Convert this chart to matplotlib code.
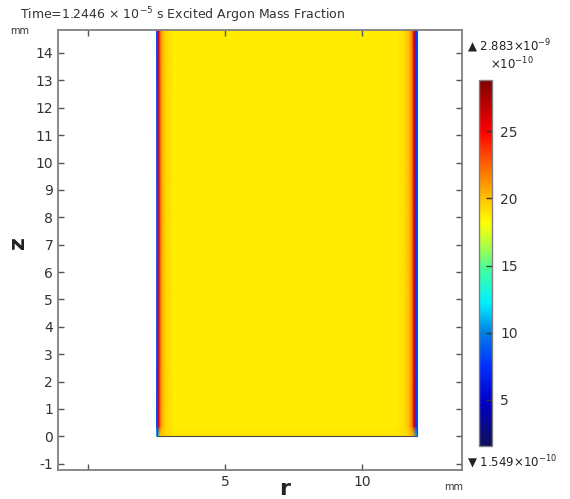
import numpy as np
import matplotlib
matplotlib.use("Agg")
import matplotlib.pyplot as plt
from matplotlib.colors import LinearSegmentedColormap

plt.rcParams["axes.unicode_minus"] = False

# ---- data (mass fraction in units of 1e-10) ----
r_nodes = [2.50, 2.56, 2.58, 2.62, 2.66, 2.72, 2.85, 3.10, 11.30, 11.55, 11.72, 11.82, 11.88, 11.92, 11.94, 12.00]
z_nodes = [0.0, 0.35, 15.0]
profile_mid = [8.0, 8.0, 25.5, 23.5, 21.5, 20.2, 19.4, 18.8, 18.8, 19.3, 20.3, 22.0, 24.5, 26.0, 8.0, 8.0]
profile_bottom = [11.0, 12.0, 14.0, 17.0, 19.0, 19.5, 19.2, 19.0, 19.0, 19.2, 19.6, 19.8, 19.0, 15.0, 12.0, 11.0]
vmin_val = 1.549
vmax_val = 28.83
cbar_ticks = [5, 10, 15, 20, 25]
x_ticks = [0, 5, 10]
x_ticklabels = ["", "5", "10"]
y_ticks = list(range(-1, 15))

field = np.array([profile_bottom, profile_mid, profile_mid])

rainbow = LinearSegmentedColormap.from_list(
    "comsol_rainbow",
    [(0.00, "#10105a"), (0.12, "#0000c8"), (0.22, "#0030ff"), (0.31, "#0080e6"),
     (0.39, "#00f0ff"), (0.48, "#40ffa0"), (0.55, "#b0ff40"), (0.61, "#ffff00"),
     (0.68, "#ffc000"), (0.77, "#ff6000"), (0.86, "#ff0000"), (1.00, "#800000")])

fig = plt.figure(figsize=(5.70, 4.99), dpi=100)
ax = fig.add_axes([0.1018, 0.0581, 0.7087, 0.8818])
R, Z = np.meshgrid(r_nodes, z_nodes)
ax.pcolormesh(R, Z, field, cmap=rainbow, vmin=vmin_val, vmax=vmax_val, shading="gouraud")
ax.add_patch(plt.Rectangle((r_nodes[0], z_nodes[0]), r_nodes[-1] - r_nodes[0], z_nodes[-1] - z_nodes[0],
                           fill=False, edgecolor="#4a4a4a", lw=0.8))
ax.set_xlim(-1.1, 13.64)
ax.set_ylim(-1.23, 14.84)
ax.set_xticks(x_ticks)
ax.set_xticklabels(x_ticklabels)
ax.set_yticks(y_ticks)
ax.tick_params(direction="in", length=4, width=1, colors="#555555", labelcolor="#333333",
               labelsize=10, top=True, right=True)
for s in ax.spines.values():
    s.set_color("#808080")
    s.set_linewidth(1.3)
ax.set_xlabel("r", fontsize=16, fontweight="bold", color="#222222")
ax.xaxis.set_label_coords((285 - 58) / 404, -(489 - 470) / 440)
ax.xaxis.label.set_va("center")
ax.set_ylabel("z", fontsize=16, fontweight="bold", color="#222222")
ax.yaxis.set_label_coords(-(58 - 18) / 404, (470 - 243) / 440)
ax.yaxis.label.set_va("center")

fig.text(20 / 570, 1 - 15 / 499, "Time=1.2446 × 10$^{-5}$ s Excited Argon Mass Fraction",
         fontsize=9, color="#333333", va="center", ha="left")
fig.text(20 / 570, 1 - 31 / 499, "mm", fontsize=7, color="#333333", va="center", ha="center")
fig.text(454 / 570, 1 - 487 / 499, "mm", fontsize=7, color="#333333", va="center", ha="center")

cax = fig.add_axes([479 / 570, 53 / 499, 13 / 570, 366 / 499])
sm = plt.cm.ScalarMappable(cmap=rainbow, norm=plt.Normalize(vmin_val, vmax_val))
cb = fig.colorbar(sm, cax=cax, ticks=cbar_ticks)
cb.outline.set_edgecolor("#808080")
cb.outline.set_linewidth(1.0)
cax.tick_params(direction="in", length=4, width=1, colors="#333333", labelsize=10, pad=6)

fig.text(467 / 570, 1 - 46 / 499, "▲ 2.883×10$^{-9}$", fontsize=8.5, color="#222222", va="center", ha="left")
fig.text(490 / 570, 1 - 64 / 499, "×10$^{-10}$", fontsize=8.5, color="#222222", va="center", ha="left")
fig.text(467 / 570, 1 - 462 / 499, "▼ 1.549×10$^{-10}$", fontsize=8.5, color="#222222", va="center", ha="left")

fig.savefig("out.png", dpi=100)
